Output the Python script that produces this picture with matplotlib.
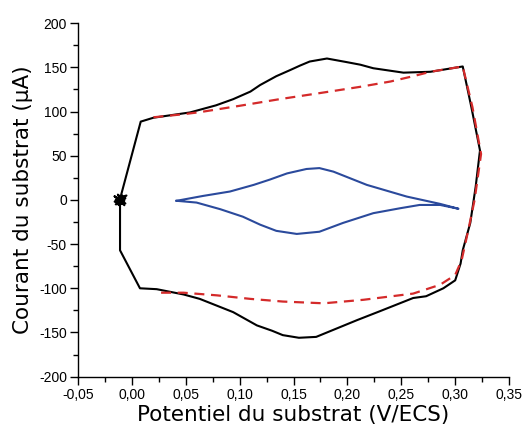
import matplotlib
matplotlib.use("Agg")
import matplotlib.pyplot as plt
from matplotlib.ticker import MultipleLocator, FuncFormatter

# Outer black voltammogram (V/ECS, µA)
black_x = [-0.011, -0.016, -0.006, -0.015, -0.005, -0.014, -0.007, -0.013, -0.008, -0.016,
           -0.006, -0.012, -0.009, -0.015, -0.007, -0.011,
           0.0082, 0.020, 0.037, 0.054, 0.063, 0.078, 0.094, 0.110, 0.119, 0.134, 0.147, 0.156,
           0.165, 0.181, 0.199, 0.212, 0.224, 0.252, 0.277, 0.307,
           0.315, 0.323, 0.319, 0.314, 0.307, 0.305, 0.300, 0.289, 0.273, 0.261, 0.230,
           0.209, 0.187, 0.171, 0.155, 0.140, 0.130, 0.116, 0.094, 0.063, 0.048, 0.023, 0.0075,
           -0.011, -0.011, -0.011]
black_y = [0, 4, -4, -5, 5, 2, -6, 6, 0, -2,
           2, -6, 5, 0, -1, 1,
           88.6, 93, 96, 99, 102, 107, 114, 122.6, 130, 140, 147, 152,
           156.6, 160, 156, 153, 149, 144, 145, 151,
           105, 56, 15, -26, -57, -72, -91, -100, -109, -111, -126,
           -136, -147, -155, -156, -153, -148, -142, -127, -112, -107, -101, -100,
           -57, -25, 0]

# Red dashed voltammogram
red_x = [0.020, 0.048, 0.063, 0.100, 0.137, 0.175, 0.212, 0.240, 0.261, 0.277, 0.307,
         0.316, 0.324, 0.318, 0.312, 0.306, 0.300, 0.286, 0.261, 0.215, 0.178, 0.140, 0.110,
         0.079, 0.048, 0.021]
red_y = [93.5, 97, 99.3, 106.5, 114, 121, 128, 134, 140, 145, 151,
         105, 52, 0, -35, -68, -85, -96, -106, -113, -117, -115, -112,
         -108, -105, -105]

# Inner blue voltammogram
blue_x = [0.0415, 0.066, 0.091, 0.113, 0.128, 0.144, 0.162, 0.174, 0.187, 0.218, 0.255, 0.286, 0.303,
          0.286, 0.267, 0.249, 0.224, 0.196, 0.174, 0.153, 0.134, 0.119, 0.103, 0.082, 0.060, 0.0415]
blue_y = [-1, 4.5, 9.5, 17, 23, 30, 35, 36, 32, 17, 3.8, -4.5, -10,
          -5.7, -5.7, -9.4, -15, -26, -36, -38.5, -35, -28, -19, -10.5, -3, -1]

fig = plt.figure(figsize=(5.27, 4.29), dpi=100)
ax = fig.add_axes([0.148, 0.122, 0.818, 0.824])

ax.plot(black_x, black_y, color="black", lw=1.5, zorder=2)
ax.plot(blue_x, blue_y, color="#2b4a9c", lw=1.5, zorder=2)
ax.plot(red_x, red_y, color="#d42a2a", lw=1.6, ls=(0, (4.5, 3)), zorder=3)

ax.set_xlim(-0.05, 0.35)
ax.set_ylim(-200, 200)
ax.xaxis.set_major_locator(MultipleLocator(0.05))
ax.xaxis.set_minor_locator(MultipleLocator(0.025))
ax.yaxis.set_major_locator(MultipleLocator(50))
ax.yaxis.set_minor_locator(MultipleLocator(25))
ax.xaxis.set_major_formatter(FuncFormatter(lambda v, p: f"{v:.2f}".replace(".", ",")))
ax.yaxis.set_major_formatter(FuncFormatter(lambda v, p: f"{v:.0f}"))

for s in ("top", "right"):
    ax.spines[s].set_visible(False)
for s in ("left", "bottom"):
    ax.spines[s].set_linewidth(1.0)

ax.tick_params(which="major", direction="out", length=6, width=1.0, labelsize=10, pad=2)
ax.tick_params(which="minor", direction="out", length=3.5, width=1.0)
for lab in ax.get_xticklabels() + ax.get_yticklabels():
    lab.set_family("Liberation Sans")

ax.set_xlabel("Potentiel du substrat (V/ECS)", fontsize=15.5, family="DejaVu Sans", labelpad=2)
ax.set_ylabel("Courant du substrat (µA)", fontsize=15.5, family="DejaVu Sans", labelpad=4)

fig.savefig("out.png", dpi=100)
